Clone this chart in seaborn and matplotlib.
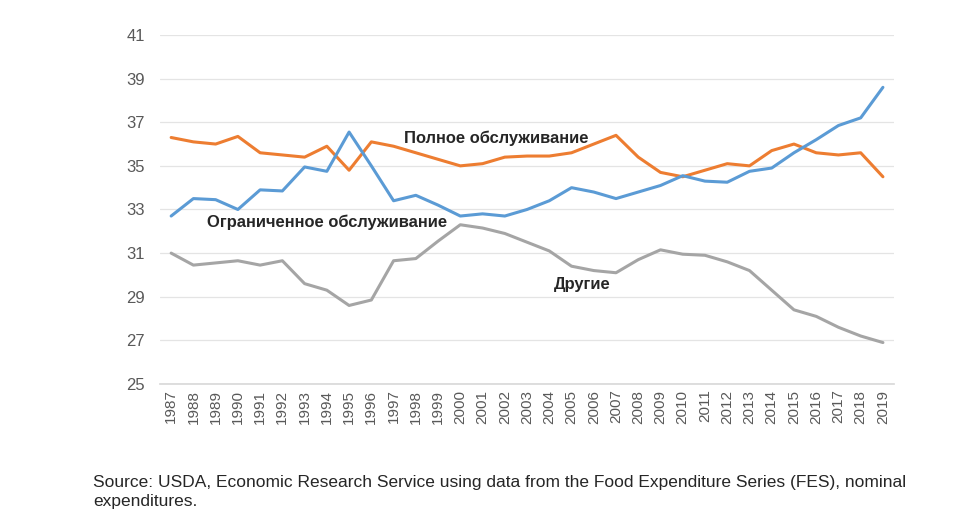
import matplotlib
matplotlib.use("Agg")
import matplotlib.pyplot as plt
import seaborn as sns
import pandas as pd

years = list(range(1987, 2020))

full_service = [36.3, 36.1, 36.0, 36.35, 35.6, 35.5, 35.4, 35.9, 34.8, 36.1,
                35.9, 35.6, 35.3, 35.0, 35.1, 35.4, 35.45, 35.45, 35.6, 36.0,
                36.4, 35.4, 34.7, 34.5, 34.8, 35.1, 35.0, 35.7, 36.0, 35.6,
                35.5, 35.6, 34.5]

limited_service = [32.7, 33.5, 33.45, 33.0, 33.9, 33.85, 34.95, 34.75, 36.55, 35.0,
                   33.4, 33.65, 33.2, 32.7, 32.8, 32.7, 33.0, 33.4, 34.0, 33.8,
                   33.5, 33.8, 34.1, 34.55, 34.3, 34.25, 34.75, 34.9, 35.6, 36.2,
                   36.85, 37.2, 38.6]

other = [31.0, 30.45, 30.55, 30.65, 30.45, 30.65, 29.6, 29.3, 28.6, 28.85,
         30.65, 30.75, 31.55, 32.3, 32.15, 31.9, 31.5, 31.1, 30.4, 30.2,
         30.1, 30.7, 31.15, 30.95, 30.9, 30.6, 30.2, 29.3, 28.4, 28.1,
         27.6, 27.2, 26.9]

series_names = ["Полное обслуживание", "Ограниченное обслуживание", "Другие"]
series_colors = ["#ED7D31", "#5B9BD5", "#A5A5A5"]
y_ticks = [25, 27, 29, 31, 33, 35, 37, 39, 41]
source_text = ("Source: USDA, Economic Research Service using data from the Food "
               "Expenditure Series (FES), nominal\nexpenditures.")

df = pd.DataFrame({
    "year": years * 3,
    "value": full_service + limited_service + other,
    "series": [series_names[0]] * len(years)
              + [series_names[1]] * len(years)
              + [series_names[2]] * len(years),
})

sns.set_theme(style="white")
plt.rcParams["font.family"] = ["Liberation Sans", "DejaVu Sans"]

fig = plt.figure(figsize=(9.6, 5.23), dpi=100)
ax = fig.add_axes([0.1667, 0.2658, 0.7646, 0.6673])

sns.lineplot(data=df, x="year", y="value", hue="series",
             palette=dict(zip(series_names, series_colors)),
             linewidth=2.2, legend=False, ax=ax)

ax.set_xlim(years[0] - 0.5, years[-1] + 0.5)
ax.set_ylim(y_ticks[0], y_ticks[-1])
ax.set_yticks(y_ticks)
ax.set_xticks(years)
ax.set_xticklabels([str(y) for y in years], rotation=90)
ax.tick_params(axis="both", length=0, colors="#595959")
ax.tick_params(axis="y", pad=11, labelsize=12)
ax.tick_params(axis="x", pad=4, labelsize=11)
ax.grid(axis="y", color="#E4E4E4", linewidth=0.9)
ax.set_axisbelow(True)
for side in ["top", "right", "left"]:
    ax.spines[side].set_visible(False)
ax.spines["bottom"].set_color("#D9D9D9")
ax.set_xlabel("")
ax.set_ylabel("")

label_style = dict(fontsize=11.9, fontweight="bold", color="#262626")
ax.text(2001.6, 36.27, series_names[0], ha="center", va="center", **label_style)
ax.text(1994.0, 32.42, series_names[1], ha="center", va="center", **label_style)
ax.text(2005.5, 29.58, series_names[2], ha="center", va="center", **label_style)

fig.text(0.097, 0.091, source_text, ha="left", va="top",
         fontsize=12.5, color="#262626", linespacing=1.3)

fig.savefig("out.png", dpi=100, facecolor="white")
